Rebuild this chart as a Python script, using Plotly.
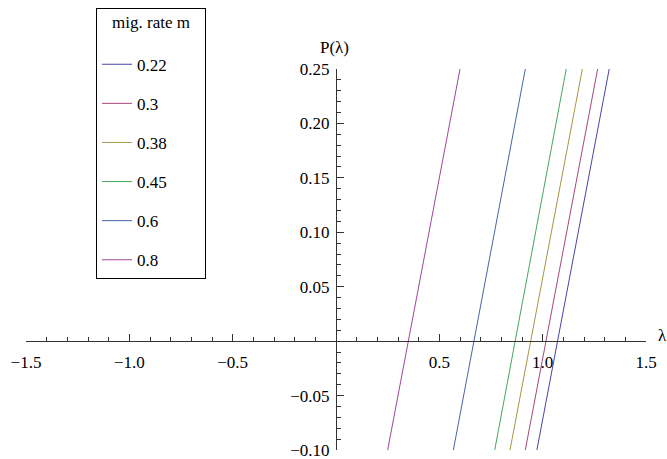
import plotly.graph_objects as go

# migration rates (legend order)
mig_rates = ["0.22", "0.3", "0.38", "0.45", "0.6", "0.8"]
# P(lambda) values at the ends of each curve
p_values = [-0.10, 0.25]
# lambda where each curve meets P = -0.10 and P = 0.25
lam_at_pmin = [0.972, 0.916, 0.842, 0.768, 0.568, 0.250]
lam_at_pmax = [1.322, 1.266, 1.192, 1.114, 0.916, 0.600]

colors = ["#4646a6", "#a6467c", "#a69646", "#46a660", "#4664a6", "#a0469c"]

x_tickvals = [-1.5, -1.0, -0.5, 0.5, 1.0, 1.5]
x_ticktext = ["\u22121.5", "\u22121.0", "\u22120.5", "0.5", "1.0", "1.5"]
y_tickvals = [-0.10, -0.05, 0.05, 0.10, 0.15, 0.20, 0.25]
y_ticktext = ["\u22120.10", "\u22120.05", "0.05", "0.10", "0.15", "0.20", "0.25"]

FONT = "Liberation Serif"
FS = 17
PAD = "&nbsp;" * 3

fig = go.Figure()
for i, m in enumerate(mig_rates):
    fig.add_trace(go.Scatter(
        x=[lam_at_pmin[i], lam_at_pmax[i]], y=p_values,
        mode="lines", name=m, legendgroup=m,
        line=dict(color=colors[i], width=1),
    ))

axis_col = "#333333"
title_txt = ("<span style='font-size:17px'>" + PAD + "mig. rate m" + PAD + "</span><br>")
fig.update_layout(
    width=667, height=459,
    margin=dict(l=26, r=21, t=69, b=9, autoexpand=False),
    paper_bgcolor="white", plot_bgcolor="white",
    font=dict(family=FONT, size=FS, color="black"),
    showlegend=True,
    legend=dict(
        xref="container", yref="container",
        x=96 / 667, y=1 - 8 / 459, xanchor="left", yanchor="top",
        bordercolor="black", borderwidth=1, bgcolor="white",
        title=dict(text=title_txt, side="top center",
                   font=dict(family=FONT, size=14.5)),
        font=dict(family=FONT, size=FS),
        traceorder="grouped", tracegroupgap=14,
        maxheight=440,
    ),
    xaxis=dict(
        range=[-1.5, 1.5], domain=[0, 1], anchor="free", position=0.1 / 0.35,
        showgrid=False, zeroline=False,
        showline=True, linecolor=axis_col, linewidth=1,
        tickmode="array", tickvals=x_tickvals, ticktext=x_ticktext,
        ticks="inside", ticklen=7, tickcolor=axis_col, tickwidth=1,
        ticklabelstandoff=5, ticklabeloverflow="allow",
        minor=dict(tickmode="linear", tick0=0, dtick=0.1, ticks="inside",
                   ticklen=4, tickcolor=axis_col, showgrid=False),
        tickfont=dict(family=FONT, size=FS),
    ),
    yaxis=dict(
        range=[-0.10, 0.25], domain=[0, 1], anchor="free", position=0.5,
        showgrid=False, zeroline=False,
        showline=True, linecolor=axis_col, linewidth=1,
        tickmode="array", tickvals=y_tickvals, ticktext=y_ticktext,
        ticks="inside", ticklen=7, tickcolor=axis_col, tickwidth=1,
        ticklabelstandoff=3, ticklabeloverflow="allow",
        minor=dict(tickmode="linear", tick0=0, dtick=0.01, ticks="inside",
                   ticklen=4, tickcolor=axis_col, showgrid=False),
        tickfont=dict(family=FONT, size=FS),
    ),
    annotations=[
        dict(text="P(\u03bb)", x=0.5, xref="paper", y=1.0, yref="paper",
             xanchor="center", yanchor="bottom", xshift=-2, yshift=10, showarrow=False,
             font=dict(family=FONT, size=FS)),
        dict(text="\u03bb", x=1.0, xref="paper", y=0.1 / 0.35, yref="paper",
             xanchor="left", yanchor="middle", xshift=10, yshift=6, showarrow=False,
             font=dict(family=FONT, size=FS)),
    ],
)

fig.write_html("out.html")
